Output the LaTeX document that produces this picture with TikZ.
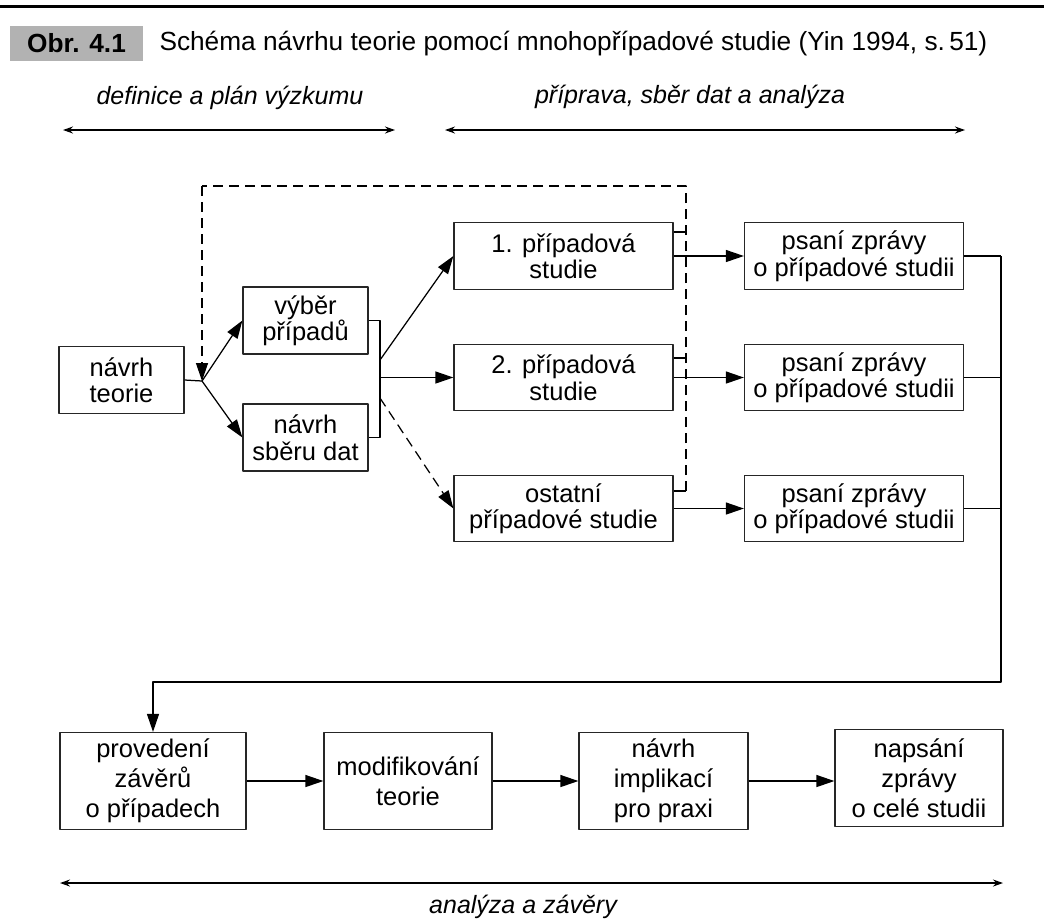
\documentclass[tikz,border=0pt]{standalone}
\usepackage{fontspec}
\setmainfont{Liberation Sans}
\usetikzlibrary{arrows.meta}

\tikzset{
  box/.style={draw=black!85, line width=0.5pt, align=center, inner sep=0pt,
    font=\fontsize{10.2}{10.6}\selectfont},
  smallbox/.style={box, minimum width=50pt, minimum height=26.8pt},
  casebox/.style={box, minimum width=87.6pt, minimum height=26.6pt},
  lowbox/.style={box, minimum height=38.8pt, font=\fontsize{10.2}{12}\selectfont},
  flow/.style={-{Triangle[length=7.2pt,width=4.8pt]}, line width=0.5pt},
  span/.style={{Stealth[length=4pt,width=2.8pt]}-{Stealth[length=4pt,width=2.8pt]}, line width=0.5pt},
  back/.style={dash pattern=on 4pt off 2.4pt, line width=0.5pt},
  phase/.style={font=\fontsize{10}{12}\selectfont\itshape, inner sep=0pt}
}

\begin{document}
\begin{tikzpicture}[x=0.4pt, y=-0.4pt, line join=round]

    \useasboundingbox (0,0) rectangle (1044,922);

    % Title strip
    \draw[line width=1.2pt] (0,6) -- (1044,6);
    \node[fill=black!30, minimum width=53.2pt, minimum height=14pt, inner sep=0pt,
      font=\fontsize{10.5}{12}\selectfont\bfseries] (obr) at (76.5,43) {Obr. 4.1};
    \node[anchor=base west, inner sep=0pt, font=\fontsize{10.5}{12}\selectfont] (titulek) at (159,50)
    {Schéma návrhu teorie pomocí mnohopřípadové studie (Yin 1994, s.\,51)};

    % Phases
    \coordinate (d1) at (63,130);
    \coordinate (d2) at (395,130);
    \coordinate (p1) at (445,130);
    \coordinate (p2) at (965,130);
    \coordinate (a1) at (60,883);
    \coordinate (a2) at (1003,883);
    \draw[span] (d1) -- (d2);
    \draw[span] (p1) -- (p2);
    \draw[span] (a1) -- (a2);
    \node[phase] (definice) at (230,98) {definice a plán výzkumu};
    \node[phase] (priprava) at (690,97) {příprava, sběr dat a analýza};
    \node[phase] (analyza) at (523,907) {analýza a závěry};

    % Boxes
    \node[smallbox] (teorie) at (121.5,380) {návrh\\teorie};
    \node[smallbox] (vyber) at (305.5,320.5) {výběr\\případů};
    \node[smallbox] (sber) at (305.5,437.5) {návrh\\sběru dat};

    \node[casebox] (pripad1) at (563.5,256) {1. případová\\studie};
    \node[casebox] (pripad2) at (563.5,377.5) {2. případová\\studie};
    \node[casebox] (pripad3) at (563.5,508.5) {ostatní\\případové studie};

    \node[casebox] (zprava1) at (854,256) {psaní zprávy\\o případové studii};
    \node[casebox] (zprava2) at (854,377.5) {psaní zprávy\\o případové studii};
    \node[casebox] (zprava3) at (854,508.5) {psaní zprávy\\o případové studii};

    \node[lowbox, minimum width=74.4pt] (zavery) at (153,781) {provedení\\závěrů\\o případech};
    \node[lowbox, minimum width=67.2pt] (modif) at (408,781) {modifikování\\teorie};
    \node[lowbox, minimum width=67.6pt] (implik) at (663.5,781) {návrh\\implikací\\pro praxi};
    \node[lowbox, minimum width=67.2pt] (celek) at (919,778) {napsání\\zprávy\\o celé studii};

    % Coordinates
    \coordinate (split) at (202,381);
    \coordinate (k1) at (380,320.5);
    \coordinate (k2) at (380,437.5);
    \coordinate (v1) at (380,360);
    \coordinate (v2) at (380,377.5);
    \coordinate (v3) at (380,398);
    \coordinate (h1) at (686,232);
    \coordinate (h2) at (686,358);
    \coordinate (h3) at (686,491);
    \coordinate (zpetR) at (686,186);
    \coordinate (zpetL) at (202,186);
    \coordinate (r1) at (1001,256);
    \coordinate (r2) at (1001,377.5);
    \coordinate (r3) at (1001,508.5);
    \coordinate (dolu) at (1001,682);
    \coordinate (vlevo) at (153,682);

    % Design
    \draw[line width=0.5pt] (teorie.east) -- (split);
    \draw[flow] (split) -- (vyber.west);
    \draw[flow] (split) -- (sber.west);
    \draw[line width=0.5pt] (vyber.east) -- (k1) -- (k2) -- (sber.east);
    \draw[flow] (v1) -- (pripad1.west);
    \draw[flow] (v2) -- (pripad2.west);
    \draw[flow, back] (v3) -- (pripad3.west);

    % Feedback loop (dashed)
    \draw[line width=0.5pt] (h1 -| pripad1.east) -- (h1);
    \draw[line width=0.5pt] (h2 -| pripad2.east) -- (h2);
    \draw[line width=0.5pt] (h3 -| pripad3.east) -- (h3);
    \draw[back] (h3) -- (zpetR) -- (zpetL);
    \draw[flow, back] (zpetL) -- (split);

    % Reports
    \draw[flow] (pripad1.east) -- (zprava1.west);
    \draw[flow] (pripad2.east) -- (zprava2.west);
    \draw[flow] (pripad3.east) -- (zprava3.west);
    \draw[line width=0.5pt] (zprava1.east) -- (r1);
    \draw[line width=0.5pt] (zprava2.east) -- (r2);
    \draw[line width=0.5pt] (zprava3.east) -- (r3);
    \draw[flow] (r1) -- (dolu) -- (vlevo) -- (zavery.north);

    % Conclusions
    \draw[flow] (zavery.east) -- (modif.west);
    \draw[flow] (modif.east) -- (implik.west);
    \draw[flow] (implik.east) -- (implik.east -| celek.west);

\end{tikzpicture}
\end{document}
